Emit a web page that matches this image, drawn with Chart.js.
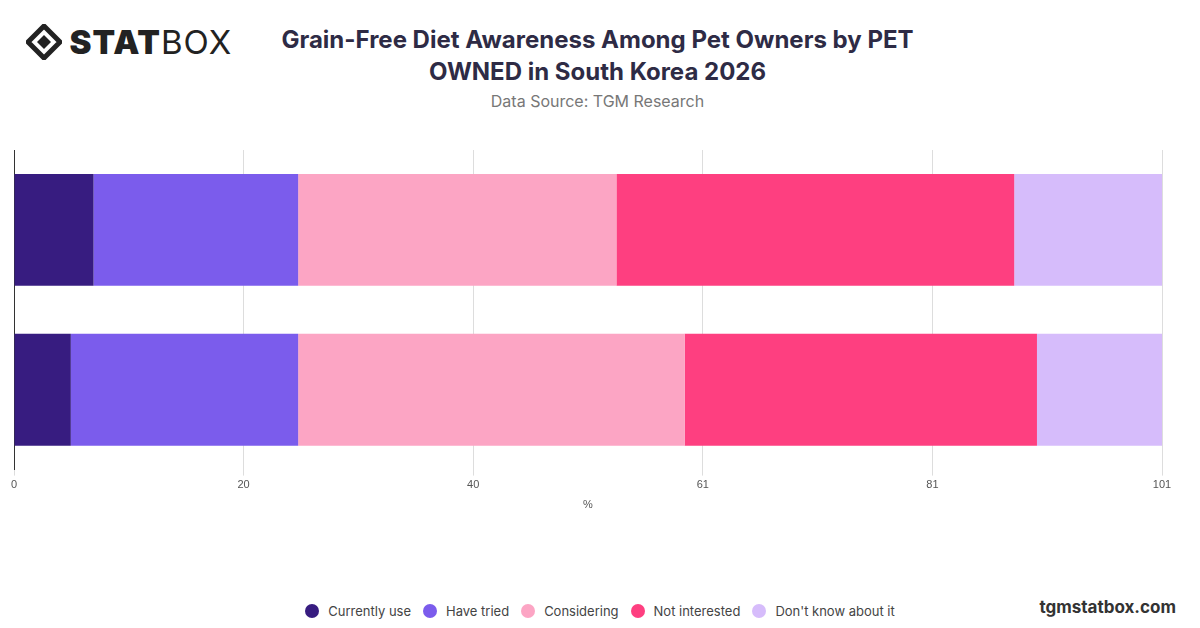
<!DOCTYPE html>
<html><head><meta charset="utf-8">
<script src="https://cdn.jsdelivr.net/npm/chart.js@4/dist/chart.umd.min.js"></script>
<style>
body{margin:0;width:1200px;height:628px;background:#fff;font-family:"Inter","Noto Sans",sans-serif;position:relative;overflow:hidden}
#logo{position:absolute;left:26px;top:22px;font-size:33px;color:#222;display:flex;align-items:center;letter-spacing:1px}
#logo b{font-weight:900}
#title{position:absolute;left:250px;width:695px;top:24px;text-align:center;font-size:24px;font-weight:700;color:#2e2b45;line-height:32px}
#src{position:absolute;left:250px;width:695px;top:91px;text-align:center;font-size:16px;color:#777}
#site{position:absolute;right:24px;top:597px;font-size:17px;font-weight:700;color:#333}
#wrap{position:absolute;left:0;top:140px;width:1200px;height:376px}
#legend{position:absolute;left:0;width:1200px;top:603px;display:flex;justify-content:center;gap:12px;font-size:13px;color:#444}
#legend span{display:flex;align-items:center}
#legend i{display:inline-block;width:14px;height:14px;border-radius:50%;margin-right:9px}
</style></head><body>
<div id="logo"><svg width="36" height="36" viewBox="0 0 36 36"><path d="M18 2 L34 18 L18 34 L2 18 Z" fill="none" stroke="#222" stroke-width="5"/><path d="M18 11 L25 18 L18 25 L11 18 Z" fill="#222"/></svg><b>&nbsp;STAT</b>BOX</div>
<div id="title">Grain-Free Diet Awareness Among Pet Owners by PET OWNED in South Korea 2026</div>
<div id="src">Data Source: TGM Research</div>
<div id="site">tgmstatbox.com</div>
<div id="wrap"><canvas id="c"></canvas></div>
<div id="legend"></div>
<script>
const categories=["Dog","Cat"];
const seriesNames=["Currently use","Have tried","Considering","Not interested","Don't know about it"];
const currentlyUse=[7,5];
const haveTried=[18,20];
const considering=[28,34];
const notInterested=[35,31];
const dontKnow=[13,11];
const colors=["#371c80","#7b5cec","#fca5c4","#fe3f80","#d6bcfb"];
const all=[currentlyUse,haveTried,considering,notInterested,dontKnow];
document.getElementById('legend').innerHTML=seriesNames.map((n,i)=>`<span><i style="background:${colors[i]}"></i>${n}</span>`).join('');
new Chart(document.getElementById('c'),{
type:'bar',
data:{labels:categories,datasets:all.map((d,i)=>({label:seriesNames[i],data:d,backgroundColor:colors[i],borderWidth:0,barPercentage:0.7,categoryPercentage:1}))},
options:{indexAxis:'y',responsive:true,maintainAspectRatio:false,animation:false,
layout:{padding:{left:6,right:38,top:10,bottom:0}},
scales:{x:{stacked:true,min:0,max:101,ticks:{stepSize:20.2,callback:v=>Math.round(v),color:'#555',font:{size:11}},grid:{color:'#ddd',drawTicks:true,tickLength:6},border:{display:false},title:{display:true,text:'%',color:'#555',font:{size:11}}},
y:{stacked:true,ticks:{display:false},grid:{display:false},border:{color:'#333',width:1}}},
plugins:{legend:{display:false},tooltip:{enabled:false}}}
});
</script>
</body></html>
